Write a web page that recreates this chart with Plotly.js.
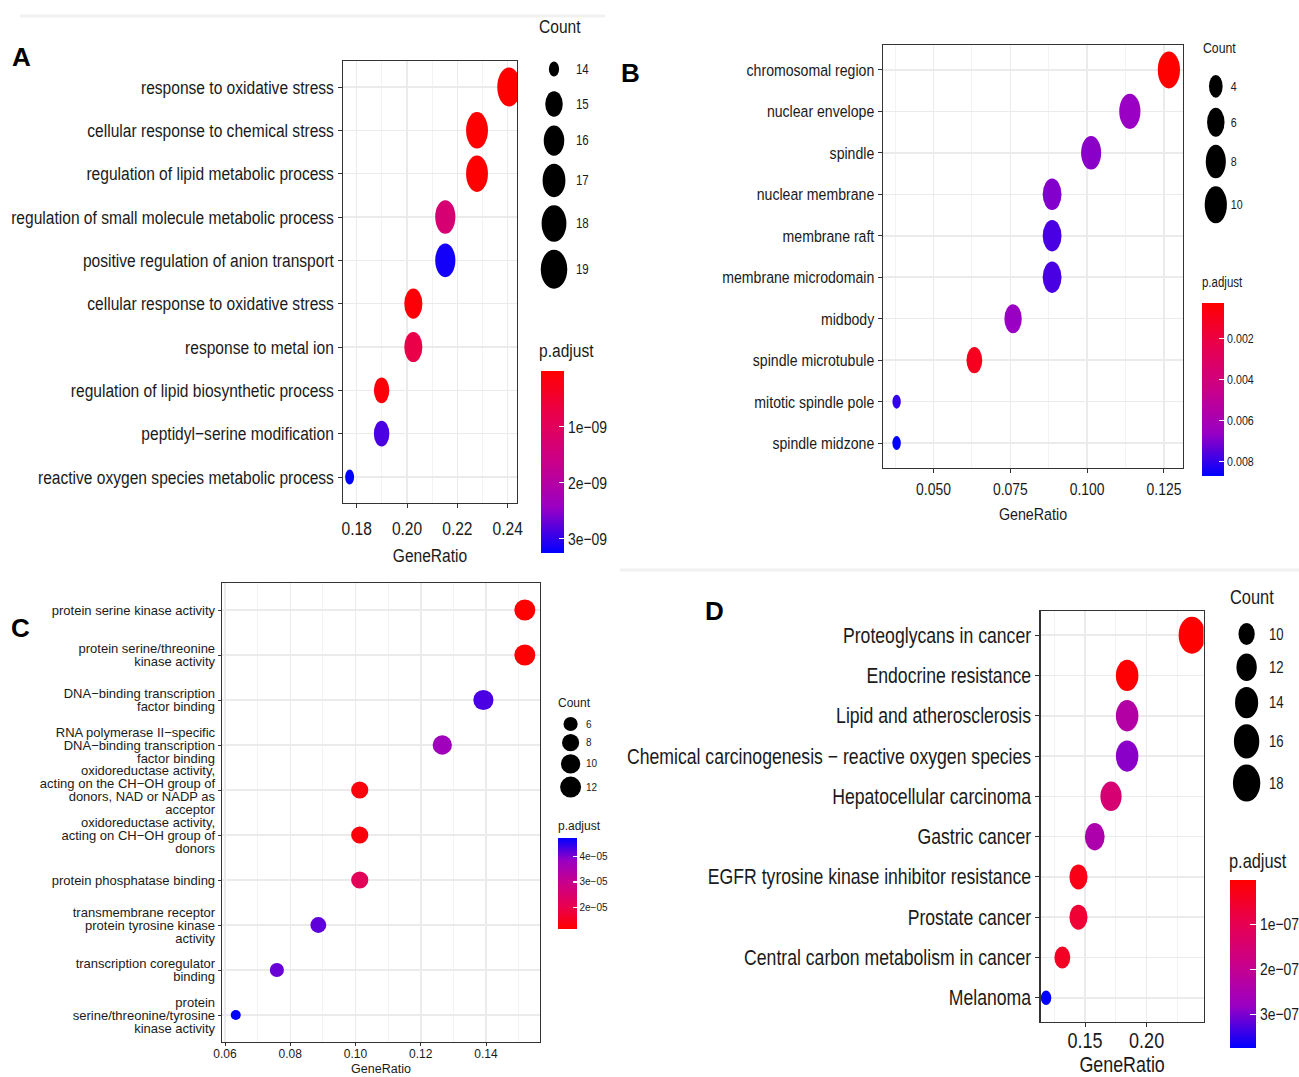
<!DOCTYPE html>
<html>
<head>
<meta charset="utf-8">
<script src="https://cdn.plot.ly/plotly-3.0.1.min.js"></script>
<style>html,body{margin:0;padding:0;background:#fff;overflow:hidden}#chart{width:1299px;height:1077px}</style>
</head>
<body>
<div id="chart"></div>
<script>
// ---------------- DATA ----------------
// Panel A
const termsA = ["response to oxidative stress", "cellular response to chemical stress", "regulation of lipid metabolic process", "regulation of small molecule metabolic process", "positive regulation of anion transport", "cellular response to oxidative stress", "response to metal ion", "regulation of lipid biosynthetic process", "peptidyl\u2212serine modification", "reactive oxygen species metabolic process"];
const geneRatioA = [0.2405, 0.2278, 0.2278, 0.2152, 0.2152, 0.2025, 0.2025, 0.1899, 0.1899, 0.1772];
const countA = [19, 18, 18, 17, 17, 16, 16, 15, 15, 14];
const padjA = [5e-12, 3e-11, 3e-11, 1.3e-9, 3.15e-9, 8e-11, 0.75e-9, 1e-10, 2.86e-9, 3.25e-9];
const countBreaksA = [14, 15, 16, 17, 18, 19];
const padjTicksA = [1e-9, 2e-9, 3e-9];
const padjLabelsA = ["1e\u221209", "2e\u221209", "3e\u221209"];

// Panel B
const termsB = ["chromosomal region", "nuclear envelope", "spindle", "nuclear membrane", "membrane raft", "membrane microdomain", "midbody", "spindle microtubule", "mitotic spindle pole", "spindle midzone"];
const geneRatioB = [0.1266, 0.1139, 0.1013, 0.0886, 0.0886, 0.0886, 0.0759, 0.0633, 0.0380, 0.0380];
const countB = [10, 9, 8, 7, 7, 7, 6, 5, 3, 3];
const padjB = [0.00025, 0.0066, 0.0068, 0.0069, 0.0077, 0.0077, 0.0066, 0.0011, 0.0080, 0.0087];
const countBreaksB = [4, 6, 8, 10];
const padjTicksB = [0.002, 0.004, 0.006, 0.008];
const padjLabelsB = ["0.002", "0.004", "0.006", "0.008"];

// Panel C
const termsC = ["protein serine kinase activity", "protein serine/threonine<br>kinase activity", "DNA\u2212binding transcription<br>factor binding", "RNA polymerase II\u2212specific<br>DNA\u2212binding transcription<br>factor binding", "oxidoreductase activity,<br>acting on the CH\u2212OH group of<br>donors, NAD or NADP as<br>acceptor", "oxidoreductase activity,<br>acting on CH\u2212OH group of<br>donors", "protein phosphatase binding", "transmembrane receptor<br>protein tyrosine kinase<br>activity", "transcription coregulator<br>binding", "protein<br>serine/threonine/tyrosine<br>kinase activity"];
const geneRatioC = [0.1519, 0.1519, 0.1392, 0.1266, 0.1013, 0.1013, 0.1013, 0.0886, 0.0759, 0.0633];
const countC = [12, 12, 11, 10, 8, 8, 8, 7, 6, 5];
const padjC = [1.17e-5, 1.2e-5, 4.32e-5, 3.75e-5, 1.3e-5, 1.3e-5, 2.2e-5, 4.2e-5, 4.14e-5, 4.75e-5];
const countBreaksC = [6, 8, 10, 12];
const padjTicksC = [2e-5, 3e-5, 4e-5];
const padjLabelsC = ["2e\u221205", "3e\u221205", "4e\u221205"];

// Panel D
const termsD = ["Proteoglycans in cancer", "Endocrine resistance", "Lipid and atherosclerosis", "Chemical carcinogenesis \u2212 reactive oxygen species", "Hepatocellular carcinoma", "Gastric cancer", "EGFR tyrosine kinase inhibitor resistance", "Prostate cancer", "Central carbon metabolism in cancer", "Melanoma"];
const geneRatioD = [0.2368, 0.1842, 0.1842, 0.1842, 0.1711, 0.1579, 0.1447, 0.1447, 0.1316, 0.1184];
const countD = [18, 14, 14, 14, 13, 12, 11, 11, 10, 9];
const padjD = [1e-9, 5e-9, 2.32e-7, 2.9e-7, 1.5e-7, 2.44e-7, 2.7e-8, 6.4e-8, 4.5e-8, 3.74e-7];
const countBreaksD = [10, 12, 14, 16, 18];
const padjTicksD = [1e-7, 2e-7, 3e-7];
const padjLabelsD = ["1e\u221207", "2e\u221207", "3e\u221207"];

// ---------------- STYLE / LAYOUT ----------------
const W = 1299, H = 1077;
const fx = v => v / W, fy = v => 1 - v / H;
// "NarrowX" is not installed: it only tags texts that get a narrow (condensed) rendering below
const NARROW = 'NarrowX, "Liberation Sans", Arial, sans-serif';
const ARIAL = '"Liberation Sans", Arial, Helvetica, sans-serif';
const NARROW_SCALE = 0.82;
const C_LINE_HEIGHT = 1.0;
const TXT = '#1a1a1a';
const RED_BLUE = [[0, '#FF0000'], [0.25, '#E8004F'], [0.5, '#CA0089'], [0.75, '#9A00C3'], [1, '#0000FF']];
const BLUE_RED = RED_BLUE.map(([t, c]) => [1 - t, c]).reverse();

const panels = [
  { letter: 'A', letterPos: [22, 57], box: [343, 61, 517, 503], xr: [0.17457, 0.24368], dtick: 0.02, fmt: '.2f',
    fam: NARROW, ySize: 19, xSize: 19, tSize: 19, ticklen: 4, xLabStand: 4, titleStand: 10,
    dmin: 15, dmax: 39, squash: 0.6,
    leg: { cx: 554, hw: 21, y0: 69, hmin: 35, pad: 8, labSize: 14, squash: 0.68, count: [538, 27], padj: [538, 350], tSize: 19, pSize: 19 },
    cb: { left: 540.7, top: 370.7, bottom: 553, thick: 23, labSize: 17, reversed: true },
    terms: termsA, ratio: geneRatioA, count: countA, padj: padjA, breaks: countBreaksA, cbTicks: padjTicksA, cbLabels: padjLabelsA },
  { letter: 'B', letterPos: [630, 73], box: [883, 45, 1183, 468], xr: [0.03357, 0.1312], dtick: 0.025, fmt: '.3f',
    fam: NARROW, ySize: 17.2, xSize: 17, tSize: 17.4, ticklen: 4, xLabStand: 1, titleStand: 10,
    dmin: 14, dmax: 37, squash: 0.6,
    leg: { cx: 1215.8, hw: 14, y0: 86.3, hmin: 35, pad: 8, labSize: 13, squash: 0.6, count: [1202, 48], padj: [1201, 282], tSize: 15, pSize: 14 },
    cb: { left: 1201.7, top: 302.7, bottom: 476, thick: 21.6, labSize: 13, reversed: true },
    terms: termsB, ratio: geneRatioB, count: countB, padj: padjB, breaks: countBreaksB, cbTicks: padjTicksB, cbLabels: padjLabelsB },
  { letter: 'C', letterPos: [20, 628], box: [222, 583, 540, 1042], xr: [0.05908, 0.15655], dtick: 0.02, fmt: '.2f',
    fam: ARIAL, ySize: 13, xSize: 12, tSize: 12.5, ticklen: 3, xLabStand: -3, titleStand: 4,
    dmin: 10, dmax: 21, squash: 1,
    leg: { cx: 570.6, hw: 14.4, y0: 724, hmin: 0, pad: 3, labSize: 10, squash: 1, count: [557, 703], padj: [557, 826], tSize: 12, pSize: 12 },
    cb: { left: 558.4, top: 837.7, bottom: 928.3, thick: 18.6, labSize: 10, reversed: false },
    terms: termsC, ratio: geneRatioC, count: countC, padj: padjC, breaks: countBreaksC, cbTicks: padjTicksC, cbLabels: padjLabelsC },
  { letter: 'D', letterPos: [714, 611], box: [1040.7, 611, 1203.5, 1022], xr: [0.11404, 0.24618], dtick: 0.05, fmt: '.2f',
    fam: NARROW, ySize: 21.5, xSize: 22, tSize: 21.8, ticklen: 4, xLabStand: -6, titleStand: 10,
    dmin: 14.5, dmax: 37, squash: 0.72,
    leg: { cx: 1246.6, hw: 21.4, y0: 634, hmin: 33, pad: 6, labSize: 16, squash: 0.74, count: [1229, 597], padj: [1228, 861], tSize: 20, pSize: 20 },
    cb: { left: 1230, top: 880, bottom: 1047.7, thick: 26, labSize: 17, reversed: true },
    terms: termsD, ratio: geneRatioD, count: countD, padj: padjD, breaks: countBreaksD, cbTicks: padjTicksD, cbLabels: padjLabelsD }
];

function dotSize(c, lo, hi, dmin, dmax) { return dmin + (dmax - dmin) * Math.sqrt((c - lo) / (hi - lo)); }

const data = [];
const layout = {
  width: W, height: H, margin: { l: 0, r: 0, t: 0, b: 0, autoexpand: false },
  paper_bgcolor: 'white', plot_bgcolor: 'rgba(0,0,0,0)', showlegend: false,
  annotations: [],
  shapes: [
    { type: 'line', xref: 'paper', yref: 'paper', x0: fx(20), x1: fx(605), y0: fy(16), y1: fy(16), line: { color: '#f1f1f1', width: 3 } },
    { type: 'line', xref: 'paper', yref: 'paper', x0: fx(620), x1: fx(1299), y0: fy(570), y1: fy(570), line: { color: '#f1f1f1', width: 3 } }
  ]
};
const squashMap = {};

panels.forEach((p, i) => {
  const n = i + 1, sfx = n === 1 ? '' : String(n);
  const lo = Math.min(...p.count), hi = Math.max(...p.count);
  const ca = 'coloraxis' + sfx;
  data.push({
    type: 'scatter', mode: 'markers', x: p.ratio, y: p.terms, xaxis: 'x' + sfx, yaxis: 'y' + sfx,
    marker: { size: p.count.map(c => dotSize(c, lo, hi, p.dmin, p.dmax)), color: p.cb.reversed ? p.padj.map(v => -v) : p.padj, coloraxis: ca, line: { width: 0 }, opacity: 1 },
    hoverinfo: 'skip', cliponaxis: true
  });
  layout['xaxis' + sfx] = {
    domain: [fx(p.box[0]), fx(p.box[2])], range: p.xr, anchor: 'y' + sfx, tick0: 0, dtick: p.dtick, tickformat: p.fmt,
    ticks: 'outside', ticklen: p.ticklen, tickwidth: 1, tickcolor: '#333', ticklabelstandoff: p.xLabStand,
    showline: true, mirror: true, linecolor: '#333', linewidth: 1.3,
    showgrid: true, gridcolor: '#ebebeb', gridwidth: 1.5, zeroline: false,
    minor: { tick0: 0, dtick: p.dtick / 2, showgrid: true, gridcolor: '#f3f3f3', gridwidth: 1, ticks: '' },
    tickfont: { family: p.fam, size: p.xSize, color: TXT },
    title: { text: 'GeneRatio', font: { family: p.fam, size: p.tSize, color: TXT }, standoff: p.titleStand },
    fixedrange: true
  };
  layout['yaxis' + sfx] = {
    domain: [fy(p.box[3]), fy(p.box[1])], anchor: 'x' + sfx, type: 'category', categoryorder: 'array', categoryarray: p.terms,
    range: [p.terms.length - 0.4, -0.6], ticks: 'outside', ticklen: p.ticklen, tickwidth: 1, tickcolor: '#333',
    showline: true, mirror: true, linecolor: '#333', linewidth: 1.3,
    showgrid: true, gridcolor: '#ebebeb', gridwidth: 1.5, zeroline: false,
    tickfont: { family: p.fam, size: p.ySize, color: TXT }, fixedrange: true
  };
  layout[ca] = {
    colorscale: p.cb.reversed ? BLUE_RED : RED_BLUE,
    colorbar: {
      x: fx(p.cb.left), xanchor: 'left', y: fy((p.cb.top + p.cb.bottom) / 2), yanchor: 'middle',
      len: p.cb.bottom - p.cb.top, lenmode: 'pixels', thickness: p.cb.thick, thicknessmode: 'pixels',
      xpad: 0, ypad: 0, outlinewidth: 0, ticks: 'inside', ticklen: Math.round(p.cb.thick * 0.22), tickwidth: 1.2, tickcolor: 'white',
      tickmode: 'array', tickvals: p.cb.reversed ? p.cbTicks.map(v => -v) : p.cbTicks, ticktext: p.cbLabels,
      tickfont: { family: p.fam, size: p.cb.labSize, color: TXT }
    }
  };
  // size legend drawn as a small subplot
  const m = n + 4;
  const sizes = p.breaks.map(c => dotSize(c, lo, hi, p.dmin, p.dmax));
  const ys = [];
  let prevH = 0;
  sizes.forEach((d, k) => {
    const h = Math.max(p.leg.hmin, d + p.leg.pad);
    ys.push(k === 0 ? p.leg.y0 : ys[k - 1] + (prevH + h) / 2);
    prevH = h;
  });
  data.push({
    type: 'scatter', mode: 'markers', x: p.breaks.map(() => 0), y: ys, xaxis: 'x' + m, yaxis: 'y' + m,
    marker: { size: sizes, color: 'black', opacity: 1, line: { width: 0 } }, hoverinfo: 'skip', cliponaxis: false
  });
  layout['xaxis' + m] = { domain: [fx(p.leg.cx - p.leg.hw), fx(p.leg.cx + p.leg.hw)], range: [-1, 1], anchor: 'y' + m, visible: false, fixedrange: true };
  layout['yaxis' + m] = {
    domain: [0, 1], range: [H, 0], anchor: 'x' + m, side: 'right', showgrid: false, zeroline: false, showline: false, ticks: '',
    tickmode: 'array', tickvals: ys, ticktext: p.breaks.map(String), tickfont: { family: p.fam, size: p.leg.labSize, color: TXT }, fixedrange: true
  };
  squashMap[(n === 1 ? 'xy' : 'x' + n + 'y' + n)] = p.squash;
  squashMap['x' + m + 'y' + m] = p.leg.squash;
  layout.annotations.push(
    { text: '<b>' + p.letter + '</b>', xref: 'paper', yref: 'paper', x: fx(p.letterPos[0]), y: fy(p.letterPos[1]), xanchor: 'center', yanchor: 'middle', showarrow: false, font: { family: ARIAL, size: 26, color: '#000' } },
    { text: 'Count', xref: 'paper', yref: 'paper', x: fx(p.leg.count[0]), y: fy(p.leg.count[1]), xanchor: 'left', yanchor: 'middle', align: 'left', showarrow: false, borderpad: 0, font: { family: p.fam, size: p.leg.tSize, color: TXT } },
    { text: 'p.adjust', xref: 'paper', yref: 'paper', x: fx(p.leg.padj[0]), y: fy(p.leg.padj[1]), xanchor: 'left', yanchor: 'middle', align: 'left', showarrow: false, borderpad: 0, font: { family: p.fam, size: p.leg.pSize, color: TXT } }
  );
});

Plotly.newPlot('chart', data, layout, { staticPlot: true, displayModeBar: false }).then(gd => {
  // elliptical dots (the reference figure was stretched vertically)
  Object.entries(squashMap).forEach(([sp, s]) => {
    if (s === 1) return;
    gd.querySelectorAll('.subplot.' + sp + ' path.point').forEach(pt => {
      const t = pt.getAttribute('transform') || '';
      pt.setAttribute('transform', t + ' scale(' + s + ',1)');
    });
  });
  // condensed rendering of the tagged texts, scaled around their anchor
  gd.querySelectorAll('text').forEach(t => {
    const ff = t.style.fontFamily || '';
    if (ff.indexOf('NarrowX') < 0) return;
    const X = parseFloat(t.getAttribute('x')) || 0;
    const tr = t.getAttribute('transform') || '';
    t.setAttribute('transform', tr + ' translate(' + (X * (1 - NARROW_SCALE)) + ',0) scale(' + NARROW_SCALE + ',1)');
  });
  // tighter line spacing for panel C's wrapped category labels, kept centred on their ticks
  gd.querySelectorAll('g.y3tick text').forEach(t => {
    const lines = t.querySelectorAll('tspan.line');
    if (lines.length < 2) return;
    const b0 = t.getBBox();
    lines.forEach((ln, k) => ln.setAttribute('dy', (k * C_LINE_HEIGHT) + 'em'));
    const b1 = t.getBBox();
    const shift = (b0.y + b0.height / 2) - (b1.y + b1.height / 2);
    t.setAttribute('transform', (t.getAttribute('transform') || '') + ' translate(0,' + shift + ')');
  });
});
</script>
</body>
</html>
